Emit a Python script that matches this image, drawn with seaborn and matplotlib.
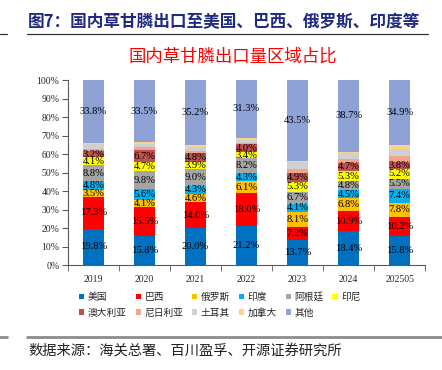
import numpy as np
import pandas as pd
import matplotlib
matplotlib.use("Agg")
import matplotlib.pyplot as plt
from matplotlib.patches import Patch
from matplotlib.lines import Line2D
import seaborn as sns

sns.set_style("ticks")
plt.rcParams['font.family'] = ['Noto Sans CJK SC', 'DejaVu Sans']

# data (shares in %)
years = ['2019', '2020', '2021', '2022', '2023', '2024', '202505']
countries = ['美国', '巴西', '俄罗斯', '印度', '阿根廷', '印尼',
             '澳大利亚', '尼日利亚', '土耳其', '加拿大', '其他']
usa       = [19.8, 15.8, 20.0, 21.2, 13.7, 18.4, 15.8]
brazil    = [17.3, 15.5, 14.0, 18.0, 7.2, 10.9, 10.2]
russia    = [3.5, 4.1, 4.6, 6.1, 8.1, 6.8, 7.8]
india     = [4.8, 5.6, 4.3, 4.3, 4.1, 4.5, 7.4]
argentina = [8.8, 9.8, 9.0, 8.2, 6.7, 4.8, 5.5]
indonesia = [4.1, 4.7, 3.9, 3.4, 5.3, 5.3, 5.2]
australia = [3.2, 6.7, 4.8, 4.0, 4.9, 4.7, 3.8]
nigeria   = [1.0, 1.4, 1.0, 0.8, 1.8, 2.2, 3.5]
turkey    = [2.7, 2.1, 2.2, 1.7, 4.0, 3.0, 3.5]
canada    = [1.0, 0.8, 1.0, 1.0, 0.7, 0.7, 2.4]
others    = [33.8, 33.5, 35.2, 31.3, 43.5, 38.7, 34.9]
labelled  = ['美国', '巴西', '俄罗斯', '印度', '阿根廷', '印尼', '澳大利亚', '其他']

colors = ['#0070C0', '#FF0000', '#FFC000', '#00B0F0', '#A5A5A5', '#FFFF00',
          '#C0504D', '#F2A58C', '#D0D0D0', '#FFD28C', '#8FA2D6']

series = [usa, brazil, russia, india, argentina, indonesia,
          australia, nigeria, turkey, canada, others]

fig = plt.figure(figsize=(4.42, 3.70), dpi=100)
ax = fig.add_axes([67.8 / 442, 1 - 265.3 / 370, (425.2 - 67.8) / 442, (265.3 - 80) / 370])

serif = ['Liberation Serif', 'DejaVu Serif']
bottom = np.zeros(len(years))
for name, vals, col in zip(countries, series, colors):
    df = pd.DataFrame({'year': years, 'share': vals})
    sns.barplot(data=df, x='year', y='share', order=years, color=col,
                width=0.405, bottom=bottom, ax=ax, saturation=1,
                edgecolor='none', linewidth=0, errorbar=None)
    if name in labelled:
        for i, v in enumerate(vals):
            ax.text(i, bottom[i] + v / 2, f'{v:.1f}%', ha='center', va='center',
                    fontsize=7.6, family=serif, color='black')
    bottom = bottom + np.array(vals)

ax.set_ylim(0, 100)
ax.set_xlim(-0.5, len(years) - 0.5)
ax.set_yticks(np.arange(0, 101, 10))
ax.set_yticklabels([f'{t}%' for t in range(0, 101, 10)], family=serif, fontsize=7)
ax.set_xticklabels(years, family=serif, fontsize=7)
ax.set_xlabel('')
ax.set_ylabel('')
ax.tick_params(axis='x', which='major', length=0, pad=7)
ax.set_xticks(np.arange(-0.5, len(years), 1), minor=True)
ax.tick_params(axis='x', which='minor', length=4, direction='out', color='#595959')
ax.tick_params(axis='y', length=4, direction='out', color='#595959', pad=2)
for s in ['top', 'right']:
    ax.spines[s].set_visible(False)
for s in ['left', 'bottom']:
    ax.spines[s].set_color('#595959')
    ax.spines[s].set_linewidth(0.8)

# legend: column-major order so rows read like the reference
order = [0, 6, 1, 7, 2, 8, 3, 9, 4, 10, 5]
handles = [Patch(facecolor=colors[k], edgecolor='none') for k in order]
labels = [countries[k] for k in order]
fig.legend(handles, labels, ncol=6, loc='upper left',
           bbox_to_anchor=(79 / 442, 1 - 292 / 370), frameon=False,
           fontsize=7, handlelength=0.55, handleheight=0.55,
           handletextpad=0.35, columnspacing=0.9, labelspacing=0.6,
           borderpad=0, borderaxespad=0)

# header, rules, footer
fig.text(28 / 442, 1 - 22 / 370, '图7：国内草甘膦出口至美国、巴西、俄罗斯、印度等',
         fontsize=12, fontweight='bold', color='#1F2A80', va='center', ha='left')
fig.add_artist(Line2D([27 / 442, 428 / 442], [1 - 33.5 / 370] * 2, color='#333333', lw=0.9))
fig.add_artist(Line2D([0, 7 / 442], [1 - 33.5 / 370] * 2, color='#333333', lw=0.9))
fig.text(233 / 442, 1 - 57 / 370, '国内草甘膦出口量区域占比', fontsize=12.5,
         color='#FF0000', ha='center', va='center')
fig.add_artist(Line2D([27 / 442, 1], [1 - 337 / 370] * 2, color='#8C8C8C', lw=2))
fig.add_artist(Line2D([0, 7 / 442], [1 - 337 / 370] * 2, color='#8C8C8C', lw=2))
fig.text(28 / 442, 1 - 351 / 370, '数据来源：海关总署、百川盈孚、开源证券研究所',
         fontsize=10.3, color='#222222', ha='left', va='center')

fig.savefig('out.png', dpi=100)
